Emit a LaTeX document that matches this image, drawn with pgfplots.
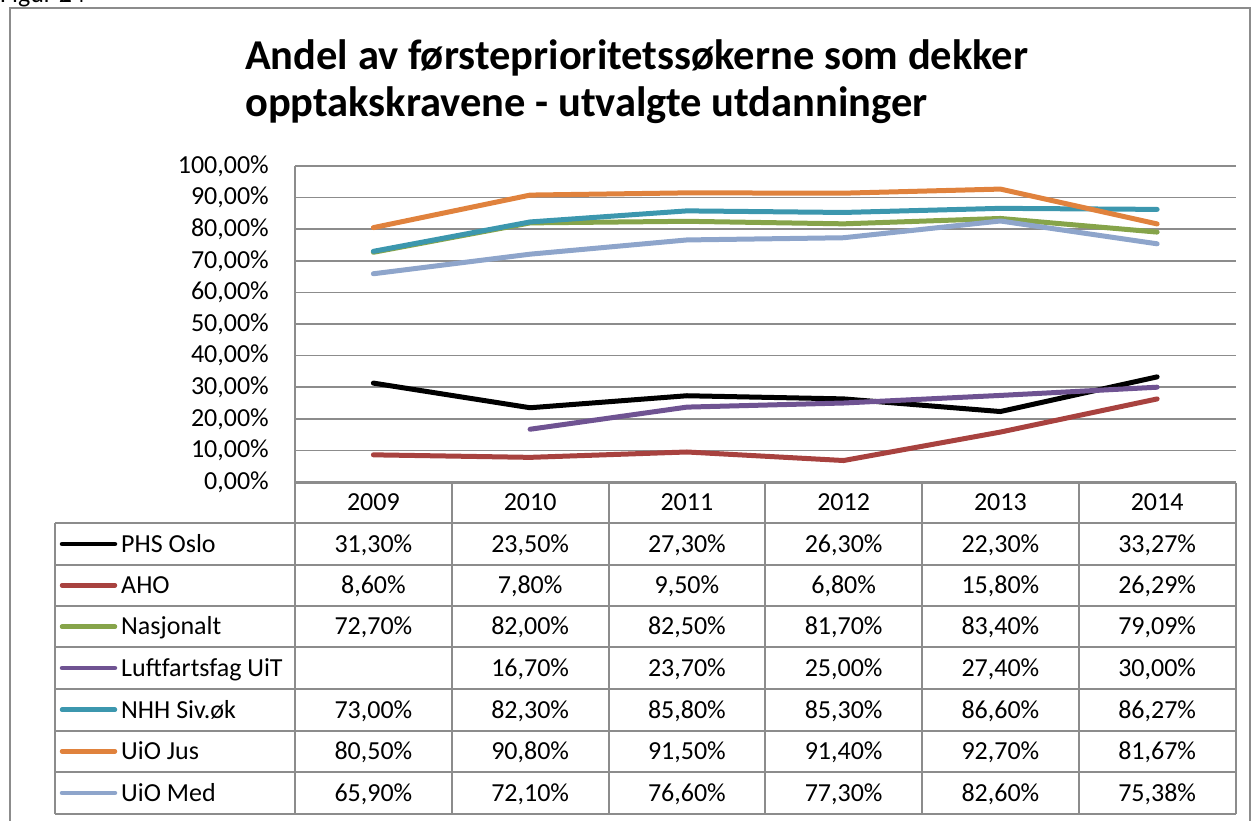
\documentclass[border=0pt]{standalone}
\usepackage{fontspec}
\setmainfont{Carlito}
\usepackage{pgfplots}
\pgfplotsset{compat=1.18}
\definecolor{cRed}{RGB}{168,66,63}
\definecolor{cGreen}{RGB}{134,164,74}
\definecolor{cPurple}{RGB}{111,83,146}
\definecolor{cTeal}{RGB}{60,151,174}
\definecolor{cOrange}{RGB}{224,130,61}
\definecolor{cLBlue}{RGB}{142,165,203}
\definecolor{gridgray}{RGB}{140,140,140}
\newcommand{\tf}{\fontsize{26}{31}\selectfont}
\begin{document}
\begin{tikzpicture}
\begin{axis}[
  at={(295pt,-482pt)}, anchor=south west,
  scale only axis, width=940.5pt, height=316pt,
  xmin=-0.5, xmax=5.5, ymin=0, ymax=100,
  xtick=\empty,
  ytick={0,10,...,100},
  yticklabels={{0,00\%},{10,00\%},{20,00\%},{30,00\%},{40,00\%},{50,00\%},{60,00\%},{70,00\%},{80,00\%},{90,00\%},{100,00\%}},
  /pgf/number format/assume math mode=true,
  ymajorgrids, grid style={draw=gridgray, line width=1.5pt},
  axis line style={draw=none},
  major tick length=0pt,
  yticklabel style={font=\tf, inner sep=0pt, xshift=-26pt},
  clip=false,
  every axis plot/.append style={line width=5pt, line cap=round, line join=round, mark=none},
]
\addplot[color=black] coordinates {(0,31.30)(1,23.50)(2,27.30)(3,26.30)(4,22.30)(5,33.27)};
\addplot[color=cRed] coordinates {(0,8.60)(1,7.80)(2,9.50)(3,6.80)(4,15.80)(5,26.29)};
\addplot[color=cGreen] coordinates {(0,72.70)(1,82.00)(2,82.50)(3,81.70)(4,83.40)(5,79.09)};
\addplot[color=cPurple] coordinates {(1,16.70)(2,23.70)(3,25.00)(4,27.40)(5,30.00)};
\addplot[color=cTeal] coordinates {(0,73.00)(1,82.30)(2,85.80)(3,85.30)(4,86.60)(5,86.27)};
\addplot[color=cOrange] coordinates {(0,80.50)(1,90.80)(2,91.50)(3,91.40)(4,92.70)(5,81.67)};
\addplot[color=cLBlue] coordinates {(0,65.90)(1,72.10)(2,76.60)(3,77.30)(4,82.60)(5,75.38)};
\end{axis}
\begin{scope}[x=1pt,y=-1pt]
% outer frame
\draw[gridgray, line width=2pt] (10,830) -- (10,8) -- (1250,8) -- (1250,830);
\node[anchor=base west, inner sep=0pt, font=\tf] at (0,2) {Figur 24};
% title
\node[anchor=base west, inner sep=0pt, font=\bfseries\fontsize{42.5}{50}\selectfont] at (245,69.3) {Andel av førsteprioritetssøkerne som dekker};
\node[anchor=base west, inner sep=0pt, font=\bfseries\fontsize{42.5}{50}\selectfont] at (245,116) {opptakskravene - utvalgte utdanninger};
% left axis line
\draw[gridgray, line width=1.5pt] (295,165.7) -- (295,482.5);
% table grid
\draw[gridgray, line width=2pt] (295,482.5) -- (1235.5,482.5);
\foreach \yy in {523.3,564.6,606,647.3,689,730.5,772,813.5}
  \draw[gridgray, line width=2pt] (55,\yy) -- (1235.5,\yy);
\draw[gridgray, line width=2pt] (55,523.3) -- (55,813.5);
\foreach \i in {0,...,6}
  \draw[gridgray, line width=2pt] ({295+156.75*\i},482.5) -- ({295+156.75*\i},813.5);
% header
\foreach \yr [count=\i from 0] in {2009,2010,2011,2012,2013,2014}
  \node[anchor=base, inner sep=0pt, font=\tf] at ({373.4+156.75*\i},510.5) {\yr};
% rows
\newcommand{\row}[9]{%
  \draw[#2, line width=4.5pt, line cap=round] (62,#1) -- (115,#1);
  \node[anchor=base west, inner sep=0pt, font=\tf] at (121,#1+8.3) {#3};
  \foreach \v [count=\i from 0] in {{#4},{#5},{#6},{#7},{#8},{#9}}
    \node[anchor=base, inner sep=0pt, font=\tf] at ({373.4+156.75*\i},#1+8.3) {\v};
}
\row{544}{black}{PHS Oslo}{31,30\%}{23,50\%}{27,30\%}{26,30\%}{22,30\%}{33,27\%}
\row{585.3}{cRed}{AHO}{8,60\%}{7,80\%}{9,50\%}{6,80\%}{15,80\%}{26,29\%}
\row{626.6}{cGreen}{Nasjonalt}{72,70\%}{82,00\%}{82,50\%}{81,70\%}{83,40\%}{79,09\%}
\row{668}{cPurple}{Luftfartsfag UiT}{}{16,70\%}{23,70\%}{25,00\%}{27,40\%}{30,00\%}
\row{709.7}{cTeal}{NHH Siv.øk}{73,00\%}{82,30\%}{85,80\%}{85,30\%}{86,60\%}{86,27\%}
\row{751.3}{cOrange}{UiO Jus}{80,50\%}{90,80\%}{91,50\%}{91,40\%}{92,70\%}{81,67\%}
\row{792.8}{cLBlue}{UiO Med}{65,90\%}{72,10\%}{76,60\%}{77,30\%}{82,60\%}{75,38\%}
\pgfresetboundingbox
\useasboundingbox (0,0) rectangle (1253,820);
\end{scope}
\end{tikzpicture}
\end{document}
